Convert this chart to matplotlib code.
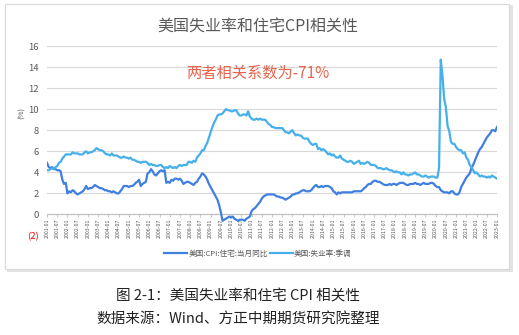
"""
US unemployment rate vs. housing CPI (YoY), monthly 2001-01 .. 2023-01
values read off the reference chart
"""

import numpy as np
import matplotlib
matplotlib.use("Agg")
import matplotlib.pyplot as plt
from matplotlib.patches import Rectangle

plt.rcParams["font.family"] = ["Noto Sans CJK SC", "DejaVu Sans"]
plt.rcParams["axes.unicode_minus"] = False

# 美国:CPI:住宅:当月同比 (%), one row per year
cpi_housing = [
    4.9, 4.5, 4.4, 4.5, 4.3, 4.3, 4.2, 4.2, 4.1, 3.3, 2.9, 3.0,   # 2001
    2.0, 2.2, 2.1, 2.3, 2.2, 2.0, 1.9, 2.0, 2.1, 2.2, 2.4, 2.7,   # 2002
    2.4, 2.5, 2.5, 2.6, 2.8, 2.7, 2.6, 2.5, 2.5, 2.4, 2.3, 2.3,   # 2003
    2.2, 2.2, 2.1, 2.2, 2.1, 2.0, 2.0, 2.2, 2.4, 2.7, 2.7, 2.7,   # 2004
    2.6, 2.7, 2.7, 2.8, 3.0, 3.1, 3.3, 2.7, 2.9, 3.0, 3.1, 3.9,   # 2005
    4.0, 4.3, 4.1, 3.8, 3.7, 3.9, 4.1, 4.2, 4.1, 4.2, 3.0, 3.1,   # 2006
    3.0, 3.3, 3.2, 3.4, 3.4, 3.3, 3.4, 3.2, 2.9, 3.0, 3.1, 3.1,   # 2007
    3.0, 2.9, 2.8, 3.0, 3.1, 3.4, 3.6, 3.9, 3.8, 3.6, 3.3, 2.9,   # 2008
    2.6, 2.3, 2.0, 1.7, 1.4, 0.9, 0.2, -0.6, -0.5, -0.4, -0.3, -0.2,  # 2009
    -0.3, -0.2, -0.4, -0.5, -0.6, -0.5, -0.5, -0.5, -0.6, -0.4, -0.3, -0.2,  # 2010
    0.3, 0.5, 0.6, 0.8, 1.0, 1.2, 1.5, 1.7, 1.8, 1.9, 1.9, 1.9,   # 2011
    1.9, 1.9, 1.8, 1.7, 1.7, 1.6, 1.6, 1.5, 1.4, 1.5, 1.6, 1.7,   # 2012
    1.9, 1.9, 2.0, 2.0, 2.1, 2.2, 2.3, 2.3, 2.2, 2.2, 2.2, 2.3,   # 2013
    2.5, 2.7, 2.8, 2.6, 2.6, 2.7, 2.6, 2.7, 2.7, 2.7, 2.6, 2.5,   # 2014
    2.2, 2.1, 1.9, 2.1, 2.0, 2.1, 2.1, 2.1, 2.1, 2.1, 2.1, 2.1,   # 2015
    2.2, 2.2, 2.2, 2.2, 2.2, 2.3, 2.5, 2.6, 2.8, 2.9, 2.9, 3.1,   # 2016
    3.2, 3.2, 3.1, 3.1, 3.0, 2.9, 2.8, 2.8, 2.8, 2.9, 2.8, 2.9,   # 2017
    2.9, 2.8, 2.9, 3.0, 3.0, 3.0, 2.9, 2.8, 2.8, 2.9, 2.9, 2.9,   # 2018
    3.0, 2.9, 2.9, 2.8, 2.9, 3.0, 2.9, 2.9, 2.9, 3.0, 3.0, 2.9,   # 2019
    2.7, 2.6, 2.6, 2.3, 2.2, 2.1, 2.1, 2.1, 2.0, 2.2, 2.2, 2.0,   # 2020
    1.9, 1.9, 2.1, 2.6, 2.9, 3.2, 3.5, 3.7, 3.9, 4.4, 4.7, 5.1,   # 2021
    5.5, 5.9, 6.2, 6.4, 6.7, 7.0, 7.3, 7.5, 7.7, 8.0, 8.0, 7.9,   # 2022
    8.3,                                                          # 2023-01
]

# 美国:失业率:季调 (%)
unemployment = [
    4.2, 4.2, 4.3, 4.4, 4.3, 4.5, 4.6, 4.9, 5.0, 5.3, 5.5, 5.7,   # 2001
    5.7, 5.7, 5.7, 5.9, 5.8, 5.8, 5.8, 5.7, 5.7, 5.7, 5.9, 6.0,   # 2002
    5.8, 5.9, 5.9, 6.0, 6.1, 6.3, 6.2, 6.1, 6.1, 6.0, 5.8, 5.7,   # 2003
    5.7, 5.6, 5.8, 5.6, 5.6, 5.6, 5.5, 5.4, 5.4, 5.5, 5.4, 5.4,   # 2004
    5.3, 5.4, 5.2, 5.2, 5.1, 5.0, 5.0, 4.9, 5.0, 5.0, 5.0, 4.9,   # 2005
    4.7, 4.8, 4.7, 4.7, 4.6, 4.6, 4.7, 4.7, 4.5, 4.4, 4.5, 4.4,   # 2006
    4.6, 4.5, 4.4, 4.5, 4.4, 4.6, 4.7, 4.6, 4.7, 4.7, 4.7, 5.0,   # 2007
    5.0, 4.9, 5.1, 5.0, 5.4, 5.6, 5.8, 6.1, 6.1, 6.5, 6.8, 7.3,   # 2008
    7.8, 8.3, 8.7, 9.0, 9.4, 9.5, 9.5, 9.6, 9.8, 10.0, 9.9, 9.9,  # 2009
    9.8, 9.8, 9.9, 9.9, 9.6, 9.4, 9.4, 9.5, 9.5, 9.4, 9.8, 9.3,   # 2010
    9.1, 9.0, 9.0, 9.1, 9.0, 9.1, 9.0, 9.0, 9.0, 8.8, 8.6, 8.5,   # 2011
    8.3, 8.3, 8.2, 8.2, 8.2, 8.2, 8.2, 8.0, 7.8, 7.8, 7.7, 7.9,   # 2012
    8.0, 7.7, 7.5, 7.6, 7.5, 7.5, 7.3, 7.2, 7.2, 7.2, 6.9, 6.7,   # 2013
    6.6, 6.7, 6.7, 6.2, 6.3, 6.1, 6.2, 6.1, 5.9, 5.7, 5.8, 5.6,   # 2014
    5.7, 5.5, 5.4, 5.4, 5.6, 5.3, 5.2, 5.1, 5.0, 5.0, 5.1, 5.0,   # 2015
    4.8, 4.9, 5.0, 5.1, 4.8, 4.9, 4.8, 4.9, 5.0, 4.9, 4.7, 4.7,   # 2016
    4.7, 4.6, 4.4, 4.4, 4.4, 4.3, 4.3, 4.4, 4.3, 4.2, 4.2, 4.1,   # 2017
    4.0, 4.1, 4.0, 4.0, 3.8, 4.0, 3.8, 3.8, 3.7, 3.8, 3.8, 3.9,   # 2018
    4.0, 3.8, 3.8, 3.7, 3.6, 3.6, 3.7, 3.6, 3.5, 3.6, 3.6, 3.6,   # 2019
    3.5, 3.5, 4.4, 14.7, 13.2, 11.0, 10.2, 8.4, 7.9, 6.9, 6.7, 6.7,  # 2020
    6.4, 6.2, 6.1, 6.1, 5.8, 5.9, 5.4, 5.2, 4.7, 4.5, 4.2, 3.9,   # 2021
    4.0, 3.8, 3.6, 3.7, 3.6, 3.6, 3.5, 3.6, 3.5, 3.7, 3.6, 3.5,   # 2022
    3.4,                                                          # 2023-01
]

tick_labels = [f"{y}-{m:02d}" for y in range(2001, 2024) for m in (1, 7)][:-1]
y_ticks = [-2, 0, 2, 4, 6, 8, 10, 12, 14, 16]

title = "美国失业率和住宅CPI相关性"
note = "两者相关系数为-71%"
caption = "图 2-1：美国失业率和住宅 CPI 相关性"
source = "数据来源：Wind、方正中期期货研究院整理"

W, H = 519, 335
fig = plt.figure(figsize=(W / 100, H / 100), dpi=100)
fig.patch.set_facecolor("white")

# chart panel with a soft grey frame/shadow (kept behind the axes)
fig.patches.append(Rectangle((7 / W, 1 - 272 / H), 506 / W, 267 / H,
                             transform=fig.transFigure, facecolor="#e4e4e4",
                             edgecolor="none", zorder=-10))
fig.patches.append(Rectangle((5 / W, 1 - 269 / H), 504 / W, 265 / H,
                             transform=fig.transFigure, facecolor="white",
                             edgecolor="#d9d9d9", linewidth=0.8, zorder=-9))

ax = fig.add_axes([47 / W, 1 - 235.5 / H, 450 / W, 189.5 / H])
ax.set_facecolor("none")
ax.set_zorder(1)

# category axis crosses at 0 (set before tick styling, it resets the ticks)
for s in ["top", "right", "left"]:
    ax.spines[s].set_visible(False)
ax.spines["bottom"].set_position(("data", 0))
ax.spines["bottom"].set_color("#bfbfbf")
ax.spines["bottom"].set_linewidth(0.8)

x = np.arange(len(cpi_housing))
c_cpi = "#3f7fe0"
c_un = "#45b0ea"
ax.plot(x, cpi_housing, color=c_cpi, lw=1.6, label="美国:CPI:住宅:当月同比", zorder=3)
ax.plot(x, unemployment, color=c_un, lw=1.6, label="美国:失业率:季调", zorder=3)

ax.set_xlim(0, len(x) - 1)
ax.set_ylim(-2, 16)
ax.set_yticks(y_ticks)
ax.set_yticklabels(["(2)"] + [str(v) for v in y_ticks[1:]])
ax.tick_params(axis="y", length=0, labelsize=6.8, labelcolor="#595959", pad=6)
ax.get_yticklabels()[0].set_color("#ff0000")
ax.grid(axis="y", color="#d9d9d9", lw=0.8)
ax.set_axisbelow(True)

ax.set_xticks(np.arange(0, len(x), 6))
ax.set_xticklabels(tick_labels, rotation=90, fontsize=3.8, color="#595959")
ax.tick_params(axis="x", length=2, width=0.6, color="#bfbfbf", pad=1)

fig.text(22 / W, 1 - 113 / H, "(%)", rotation=90, fontsize=5.5, color="#595959",
         ha="center", va="center")
fig.text(258 / W, 1 - 27 / H, title, fontsize=11.5, color="#595959",
         ha="center", va="center")
fig.text(258 / W, 1 - 73 / H, note, fontsize=11, color="#e8634c",
         ha="center", va="center")

fig.legend(loc="center", bbox_to_anchor=(258 / W, 1 - 254 / H), ncol=2,
           frameon=False, fontsize=5.5, handlelength=3.0, columnspacing=0.2,
           handletextpad=0.2, labelcolor="#595959")

fig.text(238 / W, 1 - 296 / H, caption, fontsize=10.5, color="#222222",
         ha="center", va="center")
fig.text(238 / W, 1 - 319 / H, source, fontsize=10.5, color="#222222",
         ha="center", va="center")

fig.savefig("out.png", dpi=100)
